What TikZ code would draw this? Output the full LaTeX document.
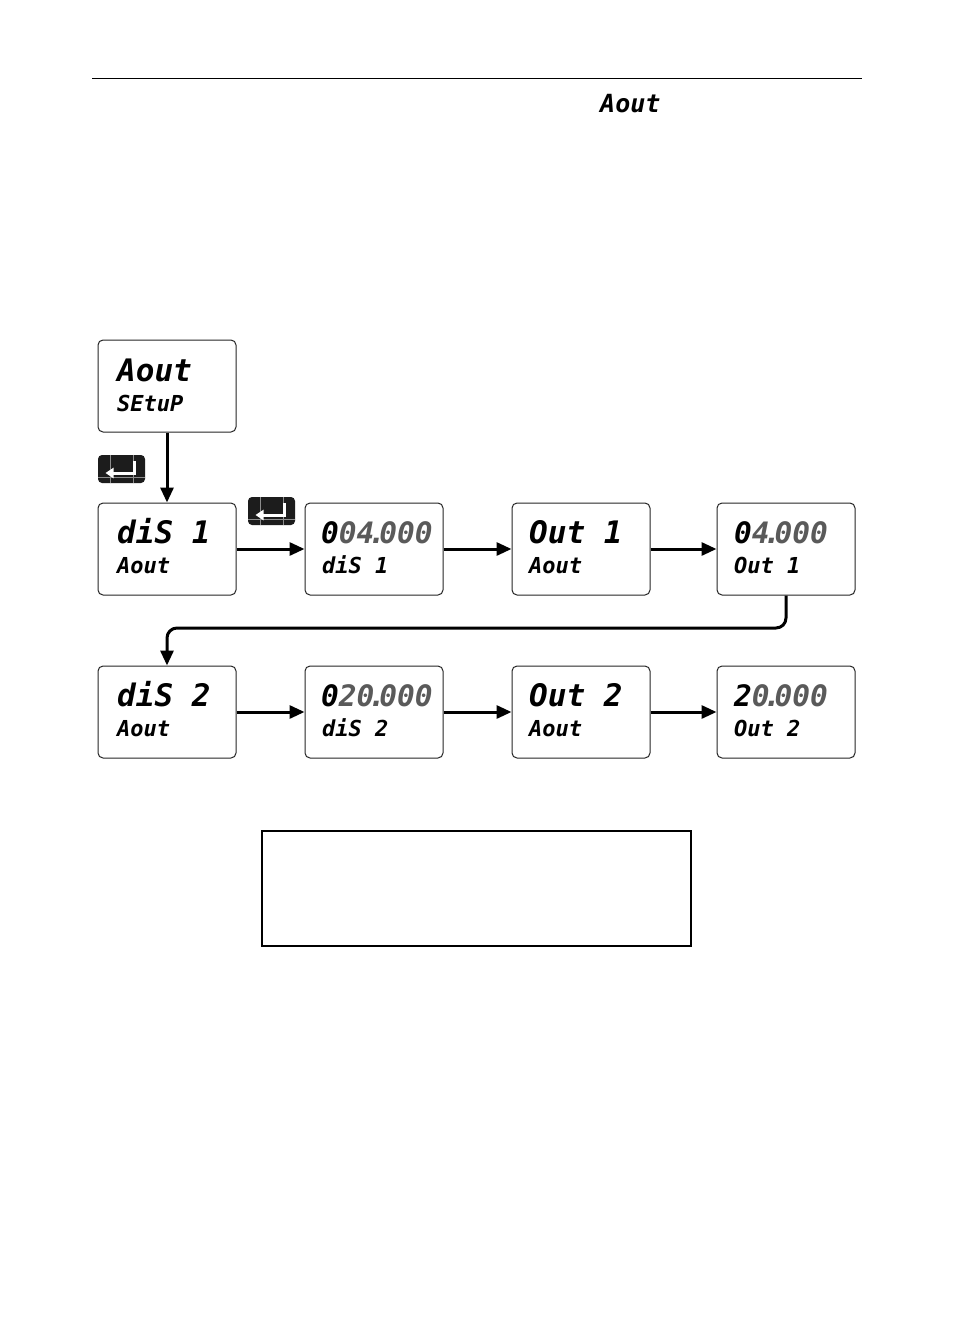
\documentclass[tikz,border=0pt]{standalone}
\usepackage{fontspec}
\newfontfamily\lcd{DejaVu Sans Mono}
\usetikzlibrary{arrows.meta,calc}
\definecolor{dimdig}{HTML}{5A5A5A}
\definecolor{keybg}{HTML}{1C1C1C}
\newcommand{\dpt}{\kern-0.22em.\kern-0.22em}
\tikzset{
  disp/.style={draw=black!85, line width=1pt, rounded corners=5pt, minimum width=138pt, minimum height=92pt, inner sep=0pt},
  bigtxt/.style={anchor=base west, inner sep=0pt, font=\lcd\bfseries\itshape\fontsize{31}{31}\selectfont},
  numtxt/.style={anchor=base west, inner sep=0pt, font=\lcd\bfseries\itshape\fontsize{29.5}{30}\selectfont},
  smalltxt/.style={anchor=base west, inner sep=0pt, font=\lcd\bfseries\itshape\fontsize{22}{22}\selectfont},
  flow/.style={line width=3pt, -{Triangle[length=15pt,width=13pt]}},
  keybox/.style={fill=keybg, rounded corners=4pt, minimum width=47pt, minimum height=28pt, inner sep=0pt}
}
\newcommand{\enterkey}[2]{%
  \node[keybox] (#1) at (#2) {};
  \draw[black!45, line width=0.6pt] ($(#1.north west)+(12,0)$) -- ($(#1.south west)+(12,0)$);
  \draw[black!45, line width=0.6pt] ($(#1.north east)+(-12,0)$) -- ($(#1.south east)+(-12,0)$);
  \draw[black!45, line width=0.6pt] ($(#1.south west)+(0,-6)$) -- ($(#1.south east)+(0,-6)$);
  \draw[white, line width=3pt, -{Triangle[length=8pt,width=10pt]}] ($(#1.center)+(13,-8)$) -- ($(#1.center)+(13,4)$) -- ($(#1.center)+(-16,4)$);
}
\begin{document}
\begin{tikzpicture}[x=1pt,y=-1pt]
\useasboundingbox (0,0) rectangle (954,1336);
\fill[white] (0,0) rectangle (954,1336);
% header rule and title
\coordinate (ruleL) at (92,78);
\coordinate (ruleR) at (862,78);
\draw[line width=1pt] (ruleL) -- (ruleR);
\node[anchor=base west, inner sep=0pt, font=\lcd\bfseries\itshape\fontsize{25}{25}\selectfont] (title) at (600,112) {Aout};
% display boxes
\node[disp] (b0) at (167,386) {};
\node[disp] (a1) at (167,549) {};
\node[disp] (a2) at (374,549) {};
\node[disp] (a3) at (581,549) {};
\node[disp] (a4) at (786,549) {};
\node[disp] (c1) at (167,712) {};
\node[disp] (c2) at (374,712) {};
\node[disp] (c3) at (581,712) {};
\node[disp] (c4) at (786,712) {};
% texts
\node[bigtxt] (t0a) at (117,381) {Aout};
\node[smalltxt] (t0b) at (117,411) {SEtuP};
\node[bigtxt] (t1a) at (117,543) {diS 1};
\node[smalltxt] (t1b) at (117,573) {Aout};
\node[numtxt] (t2a) at (321,543) {0\textcolor{dimdig}{04\dpt000}};
\node[smalltxt] (t2b) at (322,573) {diS 1};
\node[bigtxt] (t3a) at (529,543) {Out 1};
\node[smalltxt] (t3b) at (529,573) {Aout};
\node[numtxt] (t4a) at (734,543) {0\textcolor{dimdig}{4\dpt000}};
\node[smalltxt] (t4b) at (734,573) {Out 1};
\node[bigtxt] (u1a) at (117,706) {diS 2};
\node[smalltxt] (u1b) at (117,736) {Aout};
\node[numtxt] (u2a) at (321,706) {0\textcolor{dimdig}{20\dpt000}};
\node[smalltxt] (u2b) at (322,736) {diS 2};
\node[bigtxt] (u3a) at (529,706) {Out 2};
\node[smalltxt] (u3b) at (529,736) {Aout};
\node[numtxt] (u4a) at (734,706) {2\textcolor{dimdig}{0\dpt000}};
\node[smalltxt] (u4b) at (734,736) {Out 2};
% enter keys
\enterkey{k1}{121.5,469}
\enterkey{k2}{271.5,511}
% connectors
\draw[flow] (b0.south) -- (a1.north);
\draw[flow] (a1.east) -- (a2.west);
\draw[flow] (a2.east) -- (a3.west);
\draw[flow] (a3.east) -- (a4.west);
\coordinate (wrap) at (476,628);
\draw[flow, rounded corners=10pt] (a4.south) |- (wrap) -| (c1.north);
\draw[flow] (c1.east) -- (c2.west);
\draw[flow] (c2.east) -- (c3.west);
\draw[flow] (c3.east) -- (c4.west);
% empty note box
\node[draw, line width=1.3pt, minimum width=429pt, minimum height=115pt, inner sep=0pt] (note) at (476.5,888.5) {};
\end{tikzpicture}
\end{document}
